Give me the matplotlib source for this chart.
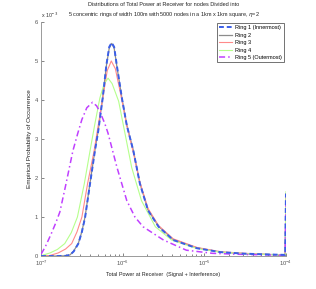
import numpy as np
import matplotlib
matplotlib.use("Agg")
import matplotlib.pyplot as plt

plt.rcParams["font.family"] = ["Liberation Sans", "DejaVu Sans"]

#------- data (x as log10 exponent, y in units of 1e-3) -----
ring1_exp = [-7.0, -6.8, -6.7, -6.645, -6.6, -6.543, -6.5, -6.46, -6.4, -6.34, -6.3, -6.245, -6.2, -6.165,
             -6.135, -6.105, -6.073, -6.01, -5.95, -5.87, -5.79, -5.69, -5.56, -5.38, -5.09, -4.8, -4.5, -4.2, -4.01, -4.0]
ring1_val = [0.0, 0.0, 0.005, 0.03, 0.12, 0.32, 0.62, 1.0, 1.86, 2.7, 3.2, 4.05, 4.9, 5.36,
             5.47, 5.36, 4.9, 4.05, 3.35, 2.70, 1.86, 1.17, 0.75, 0.41, 0.20, 0.10, 0.06, 0.04, 0.03, 1.6]

ring2_exp = ring1_exp
ring2_val = [0.0, 0.0, 0.006, 0.03, 0.13, 0.33, 0.63, 1.02, 1.88, 2.72, 3.22, 4.07, 4.88, 5.33,
             5.45, 5.33, 4.88, 4.05, 3.36, 2.71, 1.87, 1.18, 0.76, 0.42, 0.21, 0.10, 0.06, 0.04, 0.03, 1.6]

ring3_exp = [-7.0, -6.9, -6.79, -6.7, -6.625, -6.56, -6.5, -6.43, -6.35, -6.3, -6.24, -6.19, -6.14, -6.09,
             -6.02, -5.95, -5.87, -5.79, -5.69, -5.56, -5.38, -5.09, -4.8, -4.5, -4.2, -4.01, -4.0]
ring3_val = [0.0, 0.01, 0.08, 0.18, 0.32, 0.62, 1.0, 1.86, 2.7, 3.35, 4.1, 4.75, 5.0, 4.8,
             4.1, 3.35, 2.65, 1.9, 1.22, 0.78, 0.44, 0.22, 0.11, 0.07, 0.04, 0.03, 1.6]

ring4_exp = [-7.0, -6.89, -6.8, -6.71, -6.63, -6.555, -6.47, -6.4, -6.34, -6.28, -6.23, -6.18, -6.13, -6.05,
             -5.97, -5.89, -5.77, -5.6, -5.4, -5.1, -4.8, -4.5, -4.2, -4.01, -4.0]
ring4_val = [0.01, 0.08, 0.17, 0.32, 0.6, 1.0, 1.86, 2.7, 3.4, 4.05, 4.4, 4.56, 4.42, 3.97,
             3.12, 2.27, 1.42, 0.75, 0.41, 0.2, 0.1, 0.06, 0.04, 0.03, 1.65]

ring5_exp = [-7.0, -6.95, -6.88, -6.82, -6.77, -6.7, -6.65, -6.61, -6.55, -6.5, -6.44, -6.37, -6.32, -6.28,
             -6.22, -6.18, -6.13, -6.07, -5.95, -5.85, -5.75, -5.5, -5.22, -4.9, -4.5, -4.2, -4.01, -4.0]
ring5_val = [0.05, 0.23, 0.55, 0.85, 1.13, 1.8, 2.3, 2.7, 3.15, 3.5, 3.8, 3.94, 3.85, 3.7,
             3.4, 3.15, 2.75, 2.27, 1.42, 1.0, 0.75, 0.41, 0.15, 0.07, 0.04, 0.03, 0.02, 1.55]

labels = ["Ring 1 (Innermost)", "Ring 2", "Ring 3", "Ring 4", "Ring 5 (Outermost)"]
#---------------------------------------------

fig = plt.figure(figsize=(3.16, 2.89), dpi=100)
ax = fig.add_axes([0.130, 0.114, 0.775, 0.810])

ax.plot(10.0**np.array(ring2_exp), ring2_val, color="#8c8c8c", lw=0.9, label=labels[1], zorder=2)
ax.plot(10.0**np.array(ring3_exp), ring3_val, color="#ff8a8a", lw=0.8, label=labels[2], zorder=2)
ax.plot(10.0**np.array(ring4_exp), ring4_val, color="#b6ff8c", lw=0.8, label=labels[3], zorder=2)
ax.plot(10.0**np.array(ring5_exp), ring5_val, color="#c040ff", lw=1.1, ls=(0, (4, 2, 1, 2)),
        label=labels[4], zorder=3)
ax.plot(10.0**np.array(ring1_exp), ring1_val, color="#3a5ee8", lw=1.4, ls=(0, (2.5, 1.5)),
        label=labels[0], zorder=4)

ax.set_xscale("log")
ax.set_xlim(1e-7, 1e-4)
ax.set_ylim(0, 6)
ax.set_yticks([0, 1, 2, 3, 4, 5, 6])
ax.set_xticks([1e-7, 1e-6, 1e-5, 1e-4])

for s in ["top", "right"]:
    ax.spines[s].set_visible(False)
for s in ["left", "bottom"]:
    ax.spines[s].set_color("#9a9a9a")
    ax.spines[s].set_linewidth(0.7)

ax.tick_params(axis="both", which="both", direction="in", colors="#555555", labelsize=4.2,
               width=0.5, pad=2)
ax.tick_params(axis="both", which="major", length=2.5)
ax.tick_params(axis="x", which="minor", length=1.5)

ax.text(0.0, 1.01, r"x 10$^{-3}$", transform=ax.transAxes, fontsize=3.8, color="#333333",
        ha="left", va="bottom")

ax.set_title("Distributions of Total Power at Receiver for nodes Divided into\n"
             "5 concentric rings of width 100m with 5000 nodes in a 1km x 1km square, $\\eta$=2",
             fontsize=4.0, pad=4, linespacing=1.6, color="#222222")
ax.set_xlabel("Total Power at Receiver  (Signal + Interference)", fontsize=3.9, labelpad=2.5, color="#222222")
ax.set_ylabel("Empirical Probability of Occurrence", fontsize=4.6, labelpad=2, color="#222222")

handles, labs = ax.get_legend_handles_labels()
order = [labs.index(l) for l in labels]
leg = ax.legend([handles[i] for i in order], labels, loc="upper right", fontsize=4.0,
                frameon=True, fancybox=False, handlelength=2.4, borderpad=0.35,
                labelspacing=0.45, handletextpad=0.5, borderaxespad=0.2,
                bbox_to_anchor=(0.995, 1.0))
leg.get_frame().set_edgecolor("#333333")
leg.get_frame().set_linewidth(0.6)

fig.savefig("out.png", dpi=100)
